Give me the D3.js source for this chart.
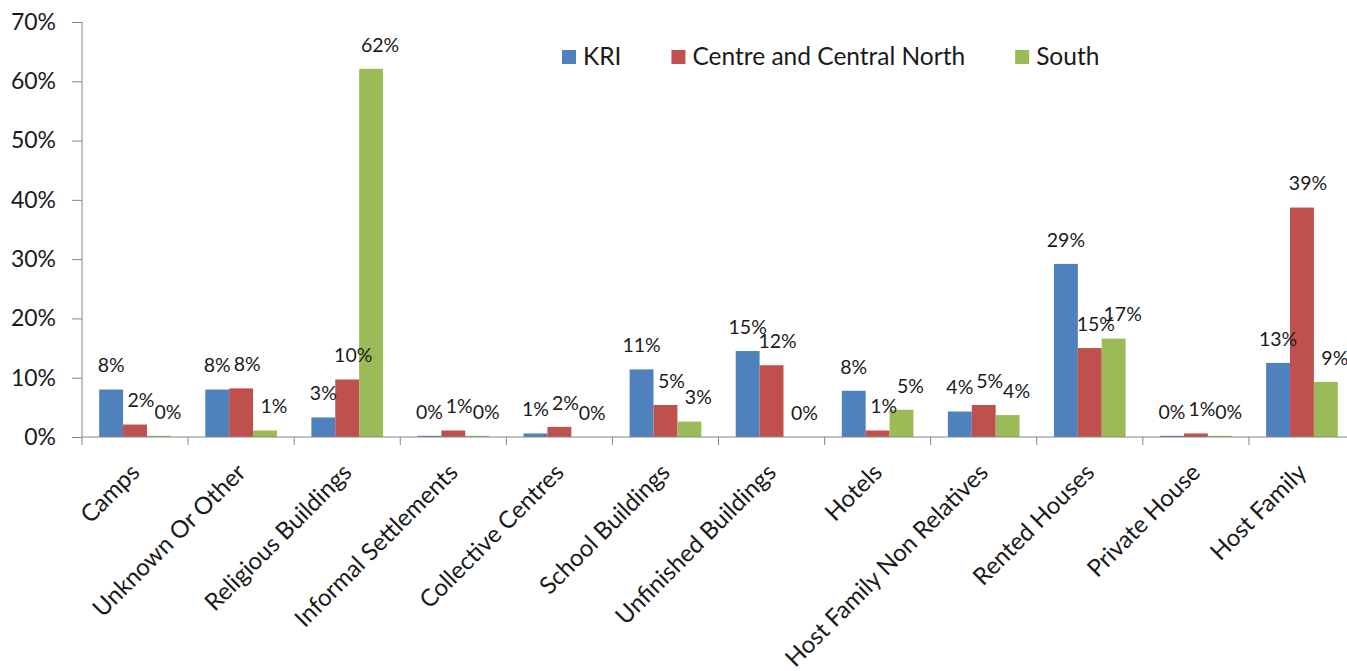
<!DOCTYPE html>
<html>
<head>
<meta charset="utf-8">
<script src="https://cdn.jsdelivr.net/npm/d3@7"></script>
<style>
  html, body { margin: 0; padding: 0; background: #fff; }
  svg { display: block; font-family: Lato, "Open Sans", sans-serif; }
</style>
</head>
<body>
<svg id="chart" width="1347" height="671"></svg>
<script>
// ---- data ----
const categories = ["Camps", "Unknown Or Other", "Religious Buildings", "Informal Settlements",
  "Collective Centres", "School Buildings", "Unfinished Buildings", "Hotels",
  "Host Family Non Relatives", "Rented Houses", "Private House", "Host Family"];
const seriesNames = ["KRI", "Centre and Central North", "South"];
const kri   = [8.0, 8.0, 3.3, 0.2, 0.6, 11.4, 14.5, 7.8, 4.3, 29.2, 0.2, 12.5];
const ccn   = [2.1, 8.2, 9.7, 1.1, 1.7, 5.4, 12.1, 1.1, 5.4, 15.0, 0.6, 38.7];
const south = [0.2, 1.1, 62.1, 0.2, 0.0, 2.6, 0.0, 4.6, 3.7, 16.6, 0.2, 9.3];
const yTicks = [0, 10, 20, 30, 40, 50, 60, 70];

(function () {
const seriesValues = [kri, ccn, south];
const colors = ["#4F81BD", "#C0504D", "#9BBB59"];
const labelShift = [0, 6, 9];

const svg = d3.select("#chart");
const mLeft = 82, mRight = 1355, mTop = 22, mBottom = 437;

const x0 = d3.scaleBand().domain(categories).range([mLeft, mRight]).padding(0);
const x1 = d3.scaleBand().domain(seriesNames).range([0, x0.bandwidth()]).paddingInner(0).paddingOuter(0.72);
const y = d3.scaleLinear().domain([0, 70]).range([mBottom, mTop]);

const rows = [];
categories.forEach((c, i) => {
  seriesNames.forEach((s, j) => rows.push({ c, s, j, v: seriesValues[j][i] }));
});

// bars
svg.append("g").selectAll("rect").data(rows).join("rect")
  .attr("x", d => x0(d.c) + x1(d.s))
  .attr("y", d => y(d.v))
  .attr("width", x1.bandwidth())
  .attr("height", d => y(0) - y(d.v))
  .attr("fill", d => colors[d.j]);

// data labels
svg.append("g").selectAll("text").data(rows).join("text")
  .attr("x", d => x0(d.c) + x1(d.s) + x1.bandwidth() / 2 + labelShift[d.j])
  .attr("y", d => y(d.v) - 24)
  .attr("dy", "0.35em")
  .attr("text-anchor", "middle")
  .attr("font-size", 19.5)
  .attr("fill", "#1a1a1a")
  .text(d => Math.round(d.v) + "%");

// y axis
const yAxis = d3.axisLeft(y).tickValues(yTicks).tickFormat(d => d + "%").tickSize(10).tickPadding(16);
const gy = svg.append("g").attr("transform", `translate(${mLeft},0)`).call(yAxis);
gy.select(".domain").attr("stroke", "#868686").attr("d", `M0,${mTop}V${mBottom}`);
gy.selectAll(".tick line").attr("stroke", "#868686");
gy.selectAll(".tick text").attr("font-size", 23).attr("fill", "#1a1a1a").attr("font-family", "Lato, sans-serif");

// x axis
const gx = svg.append("g").attr("transform", `translate(0,${mBottom})`);
gx.append("line").attr("x1", mLeft).attr("x2", mRight).attr("y1", 0).attr("y2", 0).attr("stroke", "#868686");
const bounds = categories.map(c => x0(c)).concat([mRight]);
gx.selectAll("line.tk").data(bounds).join("line").attr("class", "tk")
  .attr("x1", d => d).attr("x2", d => d).attr("y1", 0).attr("y2", 8).attr("stroke", "#868686");
gx.selectAll("text").data(categories).join("text")
  .attr("transform", d => `translate(${x0(d) + x0.bandwidth() / 2},${31}) rotate(-45)`)
  .attr("text-anchor", "end")
  .attr("dy", "0.35em")
  .attr("font-size", 24)
  .attr("fill", "#1a1a1a")
  .text(d => d);

// legend
const lg = svg.append("g").attr("transform", "translate(562,0)");
let lx = 0;
seriesNames.forEach((s, j) => {
  const g = lg.append("g").attr("transform", `translate(${lx},0)`);
  g.append("rect").attr("x", 0).attr("y", 50).attr("width", 14).attr("height", 14).attr("fill", colors[j]);
  const t = g.append("text").attr("x", 21).attr("y", 65).attr("font-size", 24.5).attr("fill", "#1a1a1a").text(s);
  lx += 21 + t.node().getComputedTextLength() + 50;
});
})();
</script>
</body>
</html>
